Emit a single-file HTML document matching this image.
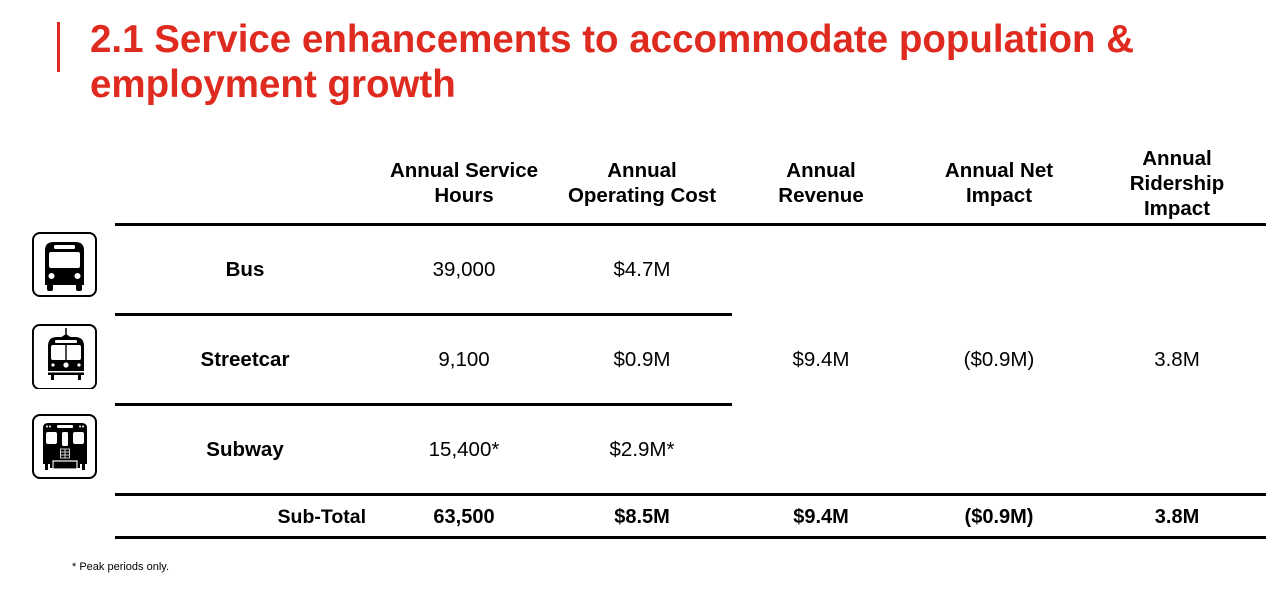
<!DOCTYPE html>
<html>
<head>
<meta charset="utf-8">
<style>
  html, body { margin:0; padding:0; background:#fff; }
  body { width:1280px; height:592px; position:relative; overflow:hidden; font-family:"Liberation Sans", Arial, sans-serif; color:#000; }
  .abs { position:absolute; }
  .title { left:90px; top:17px; font-size:38.5px; line-height:45px; font-weight:bold; color:#DF2A1F; white-space:nowrap; }
  .bar { left:57px; top:22px; width:3px; height:50px; background:#DF2A1F; }
  .hline { position:absolute; height:3px; background:#000; }
  .hdr { position:absolute; font-size:20.5px; font-weight:bold; line-height:25px; text-align:center; width:178px; display:flex; align-items:center; justify-content:center; height:100px; top:133px; }
  .cell { position:absolute; font-size:20.5px; line-height:30px; height:30px; text-align:center; width:178px; white-space:nowrap; }
  .lbl { position:absolute; font-size:20.5px; font-weight:bold; line-height:30px; height:30px; text-align:center; width:260px; left:115px; }
  .sub { position:absolute; font-size:20px; font-weight:bold; line-height:30px; height:30px; text-align:center; width:178px; top:502px; white-space:nowrap; }
  .icon { position:absolute; left:32px; width:65px; height:65px; }
</style>
</head>
<body>
  <div class="abs bar"></div>
  <div class="abs title">2.1 Service enhancements to accommodate population &amp;<br>employment growth</div>

  <!-- headers -->
  <div class="hdr" style="left:375px;">Annual Service<br>Hours</div>
  <div class="hdr" style="left:553px;">Annual<br>Operating Cost</div>
  <div class="hdr" style="left:732px;">Annual<br>Revenue</div>
  <div class="hdr" style="left:910px;">Annual Net<br>Impact</div>
  <div class="hdr" style="left:1088px;">Annual<br>Ridership<br>Impact</div>

  <!-- lines -->
  <div class="hline" style="left:115px; width:1151px; top:223px;"></div>
  <div class="hline" style="left:115px; width:617px; top:313px;"></div>
  <div class="hline" style="left:115px; width:617px; top:403px;"></div>
  <div class="hline" style="left:115px; width:1151px; top:493px;"></div>
  <div class="hline" style="left:115px; width:1151px; top:536px;"></div>

  <!-- row labels -->
  <div class="lbl" style="top:255px;">Bus</div>
  <div class="lbl" style="top:345px;">Streetcar</div>
  <div class="lbl" style="top:435px;">Subway</div>

  <!-- row data -->
  <div class="cell" style="left:375px; top:255px;">39,000</div>
  <div class="cell" style="left:553px; top:255px;">$4.7M</div>
  <div class="cell" style="left:375px; top:345px;">9,100</div>
  <div class="cell" style="left:553px; top:345px;">$0.9M</div>
  <div class="cell" style="left:375px; top:435px;">15,400*</div>
  <div class="cell" style="left:553px; top:435px;">$2.9M*</div>
  <div class="cell" style="left:732px; top:345px;">$9.4M</div>
  <div class="cell" style="left:910px; top:345px;">($0.9M)</div>
  <div class="cell" style="left:1088px; top:345px;">3.8M</div>

  <!-- subtotal -->
  <div class="abs" style="left:200px; top:502px; width:166px; text-align:right; font-size:19.5px; font-weight:bold; line-height:30px;">Sub-Total</div>
  <div class="sub" style="left:375px;">63,500</div>
  <div class="sub" style="left:553px;">$8.5M</div>
  <div class="sub" style="left:732px;">$9.4M</div>
  <div class="sub" style="left:910px;">($0.9M)</div>
  <div class="sub" style="left:1088px;">3.8M</div>

  <div class="abs" style="left:72px; top:560px; font-size:11px; line-height:14px;">* Peak periods only.</div>

  <!-- Bus icon -->
  <svg class="icon" style="top:232px;" viewBox="0 0 65 65">
    <rect x="1" y="1" width="63" height="63" rx="7" fill="#fff" stroke="#000" stroke-width="2"/>
    <path d="M13 18 Q13 10 22 10 L43 10 Q52 10 52 18 L52 53 L13 53 Z" fill="#000"/>
    <rect x="22" y="13" width="21" height="4" rx="1.5" fill="#fff"/>
    <rect x="17" y="20" width="31" height="16" rx="2" fill="#fff"/>
    <circle cx="19.5" cy="44" r="3" fill="#fff"/>
    <circle cx="45.5" cy="44" r="3" fill="#fff"/>
    <rect x="15" y="51" width="6" height="8" rx="2" fill="#000"/>
    <rect x="44" y="51" width="6" height="8" rx="2" fill="#000"/>
  </svg>

  <!-- Streetcar icon -->
  <svg class="icon" style="top:324px;" viewBox="0 0 65 65">
    <rect x="1" y="1" width="65" height="66" rx="7" fill="#fff" stroke="#000" stroke-width="2" transform="scale(0.97)"/>
    <line x1="34" y1="4" x2="34" y2="12" stroke="#000" stroke-width="1.5"/>
    <path d="M28 14 L34 10 L40 14 Z" fill="#000"/>
    <path d="M16 22 Q16 13 25 13 L43 13 Q52 13 52 22 L52 51 L16 51 Z" fill="#000"/>
    <rect x="23" y="16" width="22" height="3" rx="1" fill="#fff"/>
    <rect x="19" y="21" width="30" height="15" rx="2" fill="#fff"/>
    <rect x="33.3" y="21" width="1.4" height="15" fill="#000"/>
    <circle cx="21" cy="41" r="1.6" fill="#fff"/>
    <circle cx="34" cy="41" r="2.6" fill="#fff"/>
    <circle cx="47" cy="41" r="1.6" fill="#fff"/>
    <rect x="16" y="47" width="36" height="1.5" fill="#fff"/>
    <rect x="19" y="51" width="3" height="5" fill="#000"/>
    <rect x="46" y="51" width="3" height="5" fill="#000"/>
  </svg>

  <!-- Subway icon -->
  <svg class="icon" style="top:414px;" viewBox="0 0 65 65">
    <rect x="1" y="1" width="63" height="63" rx="7" fill="#fff" stroke="#000" stroke-width="2"/>
    <path d="M11 14 Q11 9 16 9 L50 9 Q55 9 55 14 L55 50 L11 50 Z" fill="#000"/>
    <rect x="25" y="11" width="16" height="3" rx="1" fill="#fff"/>
    <circle cx="15" cy="12.5" r="1" fill="#fff"/>
    <circle cx="18" cy="12.5" r="1" fill="#fff"/>
    <circle cx="48" cy="12.5" r="1" fill="#fff"/>
    <circle cx="51" cy="12.5" r="1" fill="#fff"/>
    <rect x="14" y="18" width="11" height="12" rx="2" fill="#fff"/>
    <rect x="41" y="18" width="11" height="12" rx="2" fill="#fff"/>
    <rect x="30" y="18" width="6" height="14" rx="1.5" fill="#fff"/>
    <g stroke="#fff" stroke-width="0.8" fill="none">
      <rect x="28.5" y="35" width="9" height="9"/>
      <line x1="28.5" y1="38" x2="37.5" y2="38"/>
      <line x1="28.5" y1="41" x2="37.5" y2="41"/>
      <line x1="33" y1="35" x2="33" y2="44"/>
    </g>
    <rect x="21" y="47" width="24" height="8" fill="#000" stroke="#fff" stroke-width="1.2"/>
    <rect x="13" y="48" width="3" height="8" fill="#000"/>
    <rect x="18" y="48" width="2.5" height="6" fill="#000"/>
    <rect x="50" y="48" width="3" height="8" fill="#000"/>
    <rect x="45.5" y="48" width="2.5" height="6" fill="#000"/>
  </svg>
</body>
</html>
